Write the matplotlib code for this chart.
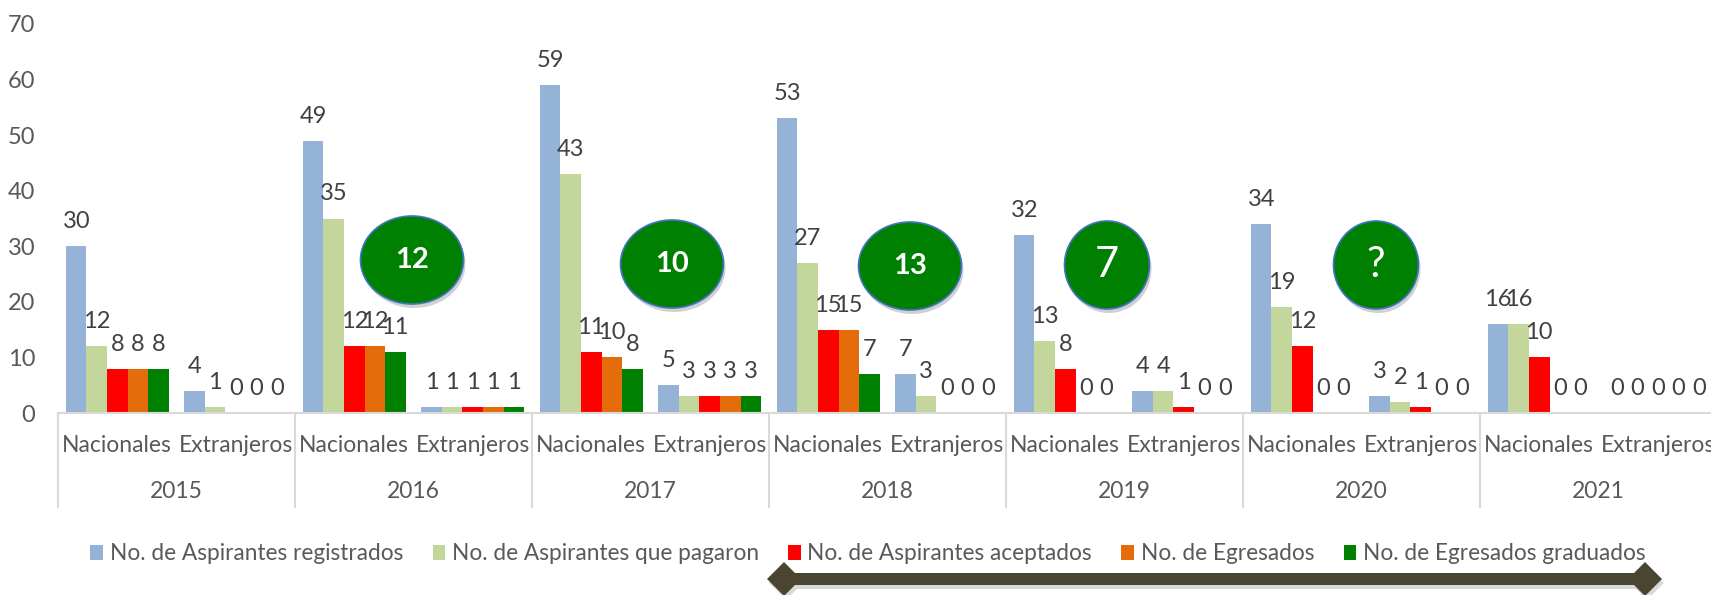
import matplotlib.pyplot as plt
from matplotlib.patches import Ellipse, Polygon
import numpy as np

plt.rcParams['font.family'] = ['Lato', 'DejaVu Sans']

years = ["2015", "2016", "2017", "2018", "2019", "2020", "2021"]
origins = ["Nacionales", "Extranjeros"]
series_names = ["No. de Aspirantes registrados", "No. de Aspirantes que pagaron",
                "No. de Aspirantes aceptados", "No. de Egresados",
                "No. de Egresados graduados"]
colors = ["#95b3d7", "#c3d69b", "#ff0000", "#e46c0a", "#008000"]

# one value per (year, origin) category, Nacionales then Extranjeros
registrados = [30, 4, 49, 1, 59, 5, 53, 7, 32, 4, 34, 3, 16, 0]
pagaron     = [12, 1, 35, 1, 43, 3, 27, 3, 13, 4, 19, 2, 16, 0]
aceptados   = [8, 0, 12, 1, 11, 3, 15, 0, 8, 1, 12, 1, 10, 0]
egresados   = [8, 0, 12, 1, 10, 3, 15, 0, 0, 0, 0, 0, 0, 0]
graduados   = [8, 0, 11, 1, 8, 3, 7, 0, 0, 0, 0, 0, 0, 0]

circle_labels = ["12", "10", "13", "7", "?"]

W, H = 1711, 595
fig = plt.figure(figsize=(W / 100, H / 100), dpi=100)
ax = fig.add_axes([58 / W, (H - 413) / H, (1717 - 58) / W, 389 / H])

series = [registrados, pagaron, aceptados, egresados, graduados]
x = np.arange(len(registrados))
bw = 0.173
for i, vals in enumerate(series):
    pos = x + (i - 2) * bw
    ax.bar(pos, vals, bw, color=colors[i], label=series_names[i], linewidth=0)
    for p, v in zip(pos, vals):
        ax.annotate(str(v), (p, v), xytext=(0, 18), textcoords='offset pixels',
                    ha='center', va='baseline', fontsize=17, color='#404040')

ax.set_xlim(-0.5, len(x) - 0.5)
ax.set_ylim(0, 70)
ax.set_yticks(range(0, 71, 10))
ax.tick_params(axis='y', length=0, pad=16.5, labelsize=17, labelcolor='#595959')
ax.set_xticks([])
for s in ['top', 'right', 'left']:
    ax.spines[s].set_visible(False)
ax.spines['bottom'].set_color('#d9d9d9')
ax.spines['bottom'].set_linewidth(1.5)

# two-level category axis
tr = ax.get_xaxis_transform()
for k in x:
    ax.annotate(origins[k % 2], (k, 0), xycoords=tr, xytext=(0, -33),
                textcoords='offset pixels', ha='center', va='center',
                fontsize=16.5, color='#595959', annotation_clip=False)
for j, yr in enumerate(years):
    ax.annotate(yr, (2 * j + 0.5, 0), xycoords=tr, xytext=(0, -79),
                textcoords='offset pixels', ha='center', va='center',
                fontsize=16.5, color='#595959', annotation_clip=False)
for j in range(len(years) + 1):
    xs = 2 * j - 0.5
    px = ax.transData.transform((xs, 0))[0] / W
    fig.add_artist(plt.Line2D([px, px], [(H - 413) / H, (H - 507) / H],
                              color='#d9d9d9', lw=1.5))

ax.legend(loc='center', bbox_to_anchor=(868 / W, (H - 554) / H),
          bbox_transform=fig.transFigure, ncol=5, frameon=False,
          fontsize=16.3, handlelength=0.55, handleheight=0.6,
          handletextpad=0.3, columnspacing=1.3, labelcolor='#595959')

# green circles
centers = [(412, 260), (672, 264), (910, 266), (1107, 265), (1376, 265)]
sizes = [(103, 88), (103, 88), (103, 88), (85, 88), (85, 88)]
for lab, (cx, cy), (ew, eh) in zip(circle_labels, centers, sizes):
    fig.add_artist(Ellipse(((cx + 2) / W, (H - cy - 4) / H), ew / W, eh / H,
                           facecolor='#000000', alpha=0.18, linewidth=0))
    fig.add_artist(Ellipse((cx / W, (H - cy) / H), ew / W, eh / H,
                           facecolor='#008000', edgecolor='#4472c4', linewidth=1.2))
    if lab in ("7", "?"):
        fig.text(cx / W, (H - cy) / H, lab, ha='center', va='center',
                 fontsize=30, color='white')
    else:
        fig.text(cx / W, (H - cy) / H, lab, ha='center', va='center',
                 fontsize=21, color='white', fontweight='bold')

# double-headed arrow
pts = [(767, 579), (784, 562), (795, 573), (1634, 573), (1645, 562), (1662, 579),
       (1645, 596), (1634, 585), (795, 585), (784, 596)]
shadow = [((px + 2) / W, (H - py - 4) / H) for px, py in pts]
fig.add_artist(Polygon(shadow, closed=True, facecolor='#000000', alpha=0.15, linewidth=0))
fig.add_artist(Polygon([(px / W, (H - py) / H) for px, py in pts], closed=True,
                       facecolor='#4a4530', linewidth=0))

fig.savefig('out.png', dpi=100)
